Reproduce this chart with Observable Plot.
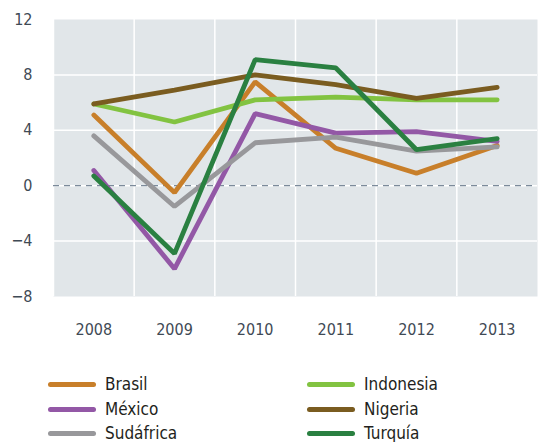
<!DOCTYPE html>
<html>
<head>
<meta charset="utf-8">
<script src="https://cdn.jsdelivr.net/npm/d3@7"></script>
<script src="https://cdn.jsdelivr.net/npm/@observablehq/plot@0.6"></script>
<style>
  body { margin: 0; background: #fff; font-family: "Liberation Sans Narrow", "DejaVu Sans Condensed", "Liberation Sans", sans-serif; }
  #chart { position: relative; width: 552px; height: 442px; overflow: hidden; }
  .legend { position: absolute; left: 0; top: 0; width: 552px; }
  .item { position: absolute; display: flex; align-items: center; font-size: 17px; color: #231f20; line-height: 1; }
  .sw { width: 48px; height: 5px; border-radius: 3px; margin-right: 9px; }
</style>
</head>
<body>
<div id="chart"></div>
<script>
const years = [2008, 2009, 2010, 2011, 2012, 2013];
const countries = ["Brasil", "México", "Sudáfrica", "Indonesia", "Nigeria", "Turquía"];
const colors = ["#c87f2a", "#9358a6", "#98989b", "#82c341", "#7a5c20", "#2a8041"];
const brasil    = [5.1, -0.5, 7.5, 2.7, 0.9, 2.9];
const mexico    = [1.1, -6.0, 5.2, 3.8, 3.9, 3.2];
const sudafrica = [3.6, -1.5, 3.1, 3.5, 2.5, 2.8];
const indonesia = [5.9, 4.6, 6.2, 6.4, 6.2, 6.2];
const nigeria   = [5.9, 6.9, 8.0, 7.3, 6.3, 7.1];
const turquia   = [0.7, -4.9, 9.1, 8.5, 2.6, 3.4];
const yTicks = [12, 8, 4, 0, -4, -8];
const series = [brasil, mexico, sudafrica, indonesia, nigeria, turquia];

const data = countries.flatMap((c, i) => years.map((y, j) => ({country: c, year: y, value: series[i][j]})));
const bounds = d3.range(years[0] - 0.5, years[years.length - 1] + 1, 1);

const font = '"Liberation Sans Narrow", "DejaVu Sans Condensed", "Liberation Sans", sans-serif';

const chart = Plot.plot({
  width: 552,
  height: 360,
  marginLeft: 53,
  marginRight: 15,
  marginTop: 19,
  marginBottom: 64,
  style: {fontFamily: font, fontSize: "16px", color: "#3f4a55", background: "transparent"},
  x: {domain: [years[0] - 0.5, years[years.length - 1] + 0.5], label: null},
  y: {domain: [-8, 12], label: null},
  color: {domain: countries, range: colors},
  marks: [
    Plot.frame({fill: "#e1e6e9", stroke: null}),
    Plot.ruleY(yTicks.filter(d => d !== -8 && d !== 12), {stroke: "#fff", strokeWidth: 1.5}),
    Plot.ruleX(bounds.slice(0, -1), {stroke: "#fff", strokeWidth: 1.5}),
    Plot.ruleY([0], {stroke: "#7b8a9a", strokeWidth: 1.3, strokeDasharray: "6,5"}),
    Plot.axisY({ticks: yTicks, tickSize: 0, tickPadding: 21, fontSize: 16, label: null, tickFormat: d => d < 0 ? "\u2212" + Math.abs(d) : String(d)}),
    Plot.axisX({ticks: years, tickSize: 0, tickPadding: 27, fontSize: 16, label: null, tickFormat: d => String(d)}),
    Plot.lineY(data, {x: "year", y: "value", stroke: "country", z: "country", strokeWidth: 4.8, strokeLinejoin: "miter", strokeLinecap: "round"})
  ]
});

const root = document.getElementById("chart");
root.appendChild(chart);

const legend = document.createElement("div");
legend.className = "legend";
const pos = [[48, 384], [48, 409], [48, 433], [307, 384], [307, 409], [307, 433]];
countries.forEach((c, i) => {
  const it = document.createElement("div");
  it.className = "item";
  it.style.left = pos[i][0] + "px";
  it.style.top = (pos[i][1] - 10) + "px";
  it.style.height = "20px";
  const sw = document.createElement("span");
  sw.className = "sw";
  sw.style.background = colors[i];
  const tx = document.createElement("span");
  tx.textContent = c;
  it.appendChild(sw);
  it.appendChild(tx);
  legend.appendChild(it);
});
root.appendChild(legend);
</script>
</body>
</html>
